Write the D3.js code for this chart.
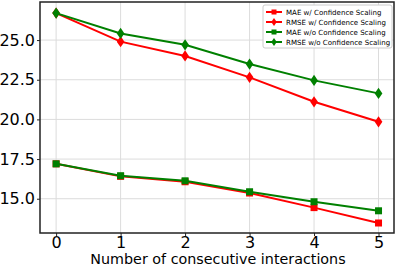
<!DOCTYPE html>
<html>
<head>
<meta charset="utf-8">
<script src="https://cdn.jsdelivr.net/npm/d3@7"></script>
<style>
  body { margin: 0; background: #fff; }
  svg { font-family: "DejaVu Sans", sans-serif; }
</style>
</head>
<body>
<svg id="chart" width="399" height="266"></svg>
<script>
const steps = [0, 1, 2, 3, 4, 5];
const maeWith = [17.2, 16.41, 16.07, 15.36, 14.44, 13.47];
const rmseWith = [26.7, 24.9, 24.0, 22.65, 21.11, 19.85];
const maeWithout = [17.2, 16.45, 16.13, 15.44, 14.81, 14.24];
const rmseWithout = [26.7, 25.42, 24.7, 23.49, 22.46, 21.64];
const yTicks = [15.0, 17.5, 20.0, 22.5, 25.0];

const series = [
  { name: 'MAE w/ Confidence Scaling', values: maeWith, color: '#ff0000', marker: 'square' },
  { name: 'RMSE w/ Confidence Scaling', values: rmseWith, color: '#ff0000', marker: 'diamond' },
  { name: 'MAE w/o Confidence Scaling', values: maeWithout, color: '#008000', marker: 'square' },
  { name: 'RMSE w/o Confidence Scaling', values: rmseWithout, color: '#008000', marker: 'diamond' }
];

const svg = d3.select('#chart');
const margin = { left: 40, right: 5, top: 2, bottom: 33 };
const W = 399, H = 266;

const x = d3.scaleLinear().domain([-0.25, 5.24]).range([margin.left, W - margin.right]);
const y = d3.scaleLinear().domain([12.84, 27.4]).range([H - margin.bottom, margin.top]);

// grid
svg.append('g').selectAll('line.gx')
  .data(steps).join('line')
  .attr('x1', d => x(d)).attr('x2', d => x(d))
  .attr('y1', margin.top).attr('y2', H - margin.bottom)
  .attr('stroke', '#dcdcdc').attr('stroke-width', 1);
svg.append('g').selectAll('line.gy')
  .data(yTicks).join('line')
  .attr('y1', d => y(d)).attr('y2', d => y(d))
  .attr('x1', margin.left).attr('x2', W - margin.right)
  .attr('stroke', '#dcdcdc').attr('stroke-width', 1);

// axes
const xAxis = svg.append('g')
  .attr('transform', `translate(0,${H - margin.bottom})`)
  .call(d3.axisBottom(x).tickValues(steps).tickFormat(d3.format('d')).tickSize(3).tickPadding(1));
const yAxis = svg.append('g')
  .attr('transform', `translate(${margin.left},0)`)
  .call(d3.axisLeft(y).tickValues(yTicks).tickFormat(d3.format('.1f')).tickSize(3).tickPadding(2));
[xAxis, yAxis].forEach(a => {
  a.select('.domain').remove();
  a.selectAll('text').attr('font-size', 16).attr('fill', '#000').attr('font-family', '"DejaVu Sans", sans-serif');
  a.selectAll('line').attr('stroke', '#222');
});

// frame
svg.append('rect')
  .attr('x', margin.left).attr('y', margin.top)
  .attr('width', W - margin.right - margin.left)
  .attr('height', H - margin.bottom - margin.top)
  .attr('fill', 'none').attr('stroke', '#222').attr('stroke-width', 1.5);

svg.append('text')
  .attr('x', (margin.left + W - margin.right) / 2 + 1)
  .attr('y', 264)
  .attr('text-anchor', 'middle')
  .attr('font-size', 14.3)
  .text('Number of consecutive interactions');

const line = d3.line().x((d, i) => x(steps[i])).y(d => y(d));

function drawMarker(g, cx, cy, kind, color, s) {
  if (kind === 'square') {
    g.append('rect').attr('x', cx - s / 2).attr('y', cy - s / 2)
      .attr('width', s).attr('height', s).attr('fill', color);
  } else {
    const w = s * 0.55, h = s * 0.8;
    g.append('path')
      .attr('d', `M${cx},${cy - h}L${cx + w},${cy}L${cx},${cy + h}L${cx - w},${cy}Z`)
      .attr('fill', color);
  }
}

series.forEach(s => {
  const g = svg.append('g');
  g.append('path').datum(s.values)
    .attr('d', line).attr('fill', 'none')
    .attr('stroke', s.color).attr('stroke-width', 2);
  s.values.forEach((v, i) => drawMarker(g, x(steps[i]), y(v), s.marker, s.color, 7));
});

// legend
const lg = svg.append('g').attr('transform', 'translate(263,5)');
lg.append('rect').attr('width', 129).attr('height', 43)
  .attr('fill', '#fff').attr('stroke', '#ccc').attr('rx', 2);
series.forEach((s, i) => {
  const yy = 7 + i * 10;
  lg.append('line').attr('x1', 3).attr('x2', 19).attr('y1', yy).attr('y2', yy)
    .attr('stroke', s.color).attr('stroke-width', 2);
  drawMarker(lg, 11, yy, s.marker, s.color, 5);
  lg.append('text').attr('x', 23).attr('y', yy + 2.5)
    .attr('font-size', 7.05).text(s.name);
});
</script>
</body>
</html>
